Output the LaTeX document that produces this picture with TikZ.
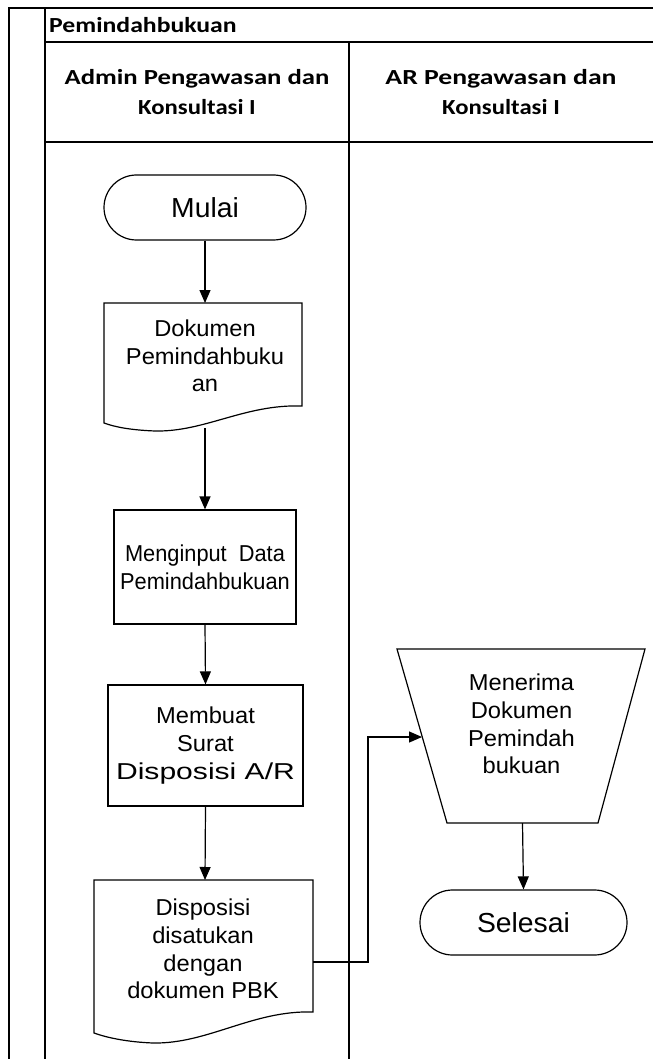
\documentclass[tikz,border=0pt]{standalone}
\usepackage{fontspec}
\usepackage{graphicx}
\setmainfont{Liberation Sans}[FakeStretch=1.03]
\newfontfamily\hdfont{Carlito}[FakeStretch=1.15]
\usetikzlibrary{shapes.misc,arrows.meta,calc}
\newcommand\bodyfont{\fontsize{23}{27.7}\selectfont}
\newcommand\termfont{\fontsize{27.5}{30}\selectfont}
\newcommand\wide[2]{\scalebox{#1}[1]{#2}}
\begin{document}
\begin{tikzpicture}[x=1pt,y=-1pt,
  lane/.style={line width=1.8pt, draw=black},
  shp/.style={draw=black, line width=1.2pt},
  term/.style={shp, rounded rectangle, minimum height=65pt, inner sep=0pt, font=\termfont},
  proc/.style={shp, rectangle, inner sep=0pt, align=center, font=\bodyfont},
  txt/.style={align=center, inner sep=0pt, font=\bodyfont},
  hd/.style={align=center, inner sep=0pt, font=\hdfont\bfseries\fontsize{21.5}{30}\selectfont},
  arr/.style={line width=1.2pt, -{Triangle[length=13pt,width=11pt]}},
]
\useasboundingbox (0,0) rectangle (653,1059);

% swimlane frame
\draw[lane] (9,1059) -- (9,8) -- (653,8);
\draw[lane] (45,8) -- (45,1059);
\draw[lane] (45,42) -- (653,42);
\draw[lane] (45,142) -- (653,142);
\draw[lane] (349,42) -- (349,1059);

\node[hd, anchor=west] (pool) at (49,25) {\wide{1.04}{Pemindahbukuan}};
\node[hd] (laneA) at (197,92) {\wide{1.08}{Admin Pengawasan dan}\\Konsultasi I};
\node[hd] (laneB) at (501,92) {\wide{1.12}{AR Pengawasan dan}\\Konsultasi I};

% start
\node[term, minimum width=202pt] (mulai) at (205,207.5) {Mulai};

% document: Dokumen Pemindahbukuan
\node[txt] (dok) at (205,356) {Dokumen\\Pemindahbuku\\an};
\begin{scope}[shift={(dok.center)}]
  \draw[shp] (-101,-53) -- (97,-53) -- (97,50)
    .. controls (40,48) and (0,76) .. (-50,75)
    .. controls (-75,74) and (-90,71) .. (-101,67) -- cycle;
\end{scope}

% process boxes
\node[proc, minimum width=182pt, minimum height=114pt] (input) at (205,567)
  {\wide{0.92}{Menginput\ \ Data}\\\wide{0.92}{Pemindahbukuan}};
\node[proc, minimum width=195pt, minimum height=121pt] (surat) at (205.5,745.5)
  {Membuat\\Surat\\\wide{1.27}{Disposisi A/R}};

% document: Disposisi
\node[txt] (disp) at (203,949) {Disposisi\\disatukan\\dengan\\dokumen PBK};
\begin{scope}[shift={(disp.center)}]
  \draw[shp] (-109,-69) -- (110,-69) -- (110,63)
    .. controls (50,61) and (5,95) .. (-50,94)
    .. controls (-75,93) and (-95,89) .. (-109,84) -- cycle;
\end{scope}

% manual operation: Menerima Dokumen Pemindahbukuan
\node[txt] (recv) at (521.5,724) {Menerima\\Dokumen\\Pemindah\\bukuan};
\begin{scope}[shift={(recv.center)}]
  \draw[shp] (-124.5,-75) -- (123.5,-75) -- (76.5,99) -- (-74.5,99) -- cycle;
\end{scope}

% end
\node[term, minimum width=207pt] (selesai) at (523.5,922.5) {Selesai};

% connectors
\draw[arr] (mulai.south) -- ($(dok.center)+(0,-53)$);
\draw[arr] ($(dok.center)+(0,72)$) -- (input.north);
\draw[arr] (input.south) -- (surat.north);
\draw[arr] (surat.south) -- ($(disp.center)+(2,-69)$);
\draw[arr] ($(disp.center)+(110,13)$) -- ++(55,0) |- ($(recv.center)+(-99.5,13)$);
\draw[arr] ($(recv.center)+(1,99)$) -- (selesai.north);
\end{tikzpicture}
\end{document}
